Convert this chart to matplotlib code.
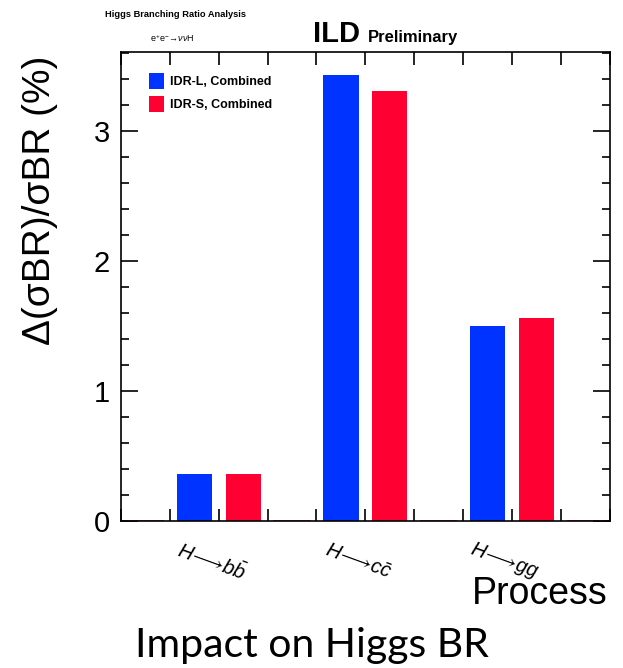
import matplotlib
matplotlib.use("Agg")
import matplotlib.pyplot as plt
from matplotlib.ticker import MultipleLocator

# relative uncertainty on sigma x BR, in percent
processes = [r"$H\!\longrightarrow\! b\bar{b}$", r"$H\!\longrightarrow\! c\bar{c}$", r"$H\!\longrightarrow\! gg$"]
idr_l = [0.36, 3.43, 1.50]
idr_s = [0.36, 3.31, 1.56]
series_labels = ["IDR-L, Combined", "IDR-S, Combined"]

blue = "#0033ff"
red = "#ff0033"
font = "Liberation Sans"

plt.rcParams["mathtext.fontset"] = "custom"
plt.rcParams["mathtext.rm"] = font
plt.rcParams["mathtext.it"] = font + ":italic"
plt.rcParams["mathtext.bf"] = font + ":bold"
plt.rcParams["mathtext.fallback"] = "stixsans"

fig = plt.figure(figsize=(6.23, 6.68), dpi=100)
ax = fig.add_axes([0.194, 0.22, 0.785, 0.702])

# ROOT-style histogram: 10 bins, groups of (blue, red, empty)
width = 0.72
nbins = 10
blue_pos = [1 + 3 * i for i in range(len(processes))]
red_pos = [2 + 3 * i for i in range(len(processes))]
empty_pos = [0, 3, 6, 9]

ax.bar([p + 0.5 for p in blue_pos], idr_l, width=width, color=blue, label=series_labels[0])
ax.bar([p + 0.5 for p in red_pos], idr_s, width=width, color=red, label=series_labels[1])
for p in empty_pos:
    ax.plot([p + 0.5 - width / 2, p + 0.5 + width / 2], [0, 0], color=red, lw=1.2)

ax.set_xlim(0, nbins)
ax.set_ylim(0, 3.61)

ax.xaxis.set_major_locator(MultipleLocator(1))
ax.yaxis.set_major_locator(MultipleLocator(1))
ax.yaxis.set_minor_locator(MultipleLocator(0.2))
ax.tick_params(axis="both", which="both", direction="in", top=True, right=True, width=1.2)
ax.tick_params(axis="x", which="major", length=9, labelbottom=False)
ax.tick_params(axis="y", which="major", length=12, labelsize=21, pad=8)
ax.tick_params(axis="y", which="minor", length=6)
for lbl in ax.get_yticklabels():
    lbl.set_fontfamily(font)
for s in ax.spines.values():
    s.set_linewidth(1.2)

# process labels, slanted under each pair
for i, name in enumerate(processes):
    ax.text(red_pos[i] - 0.15, -0.31, name, rotation=-20, ha="center", va="center",
            fontsize=14.5, family=font)

ax.set_ylabel("Δ(σBR)/σBR (%)", fontsize=28, family=font)
ax.yaxis.set_label_coords(-0.128, 0.685)
fig.text(0.976, 0.111, "Process", ha="right", va="center", fontsize=27, family=font)

leg = ax.legend(loc="upper left", bbox_to_anchor=(0.035, 0.98), frameon=False,
                handlelength=1.2, handleheight=1.6, handletextpad=0.5, labelspacing=0.6,
                prop={"family": font, "size": 9, "weight": "bold"})

fig.text(0.168, 0.985, "Higgs Branching Ratio Analysis", fontsize=6.7, family=font,
         weight="bold", va="top")
fig.text(0.24, 0.943, r"e$^{+}$e$^{-}\!\rightarrow\!\nu\nu$H", fontsize=6.5, family=font, va="center")
fig.text(0.502, 0.937, "ILD", fontsize=21, weight="bold", family=font, va="baseline")
fig.text(0.59, 0.937, "Preliminary", fontsize=12, weight="bold", family=font, va="baseline")

fig.text(0.5, 0.034, "Impact on Higgs BR", ha="center", va="center", fontsize=29.5, family="Lato")

fig.savefig("out.png", dpi=100)
